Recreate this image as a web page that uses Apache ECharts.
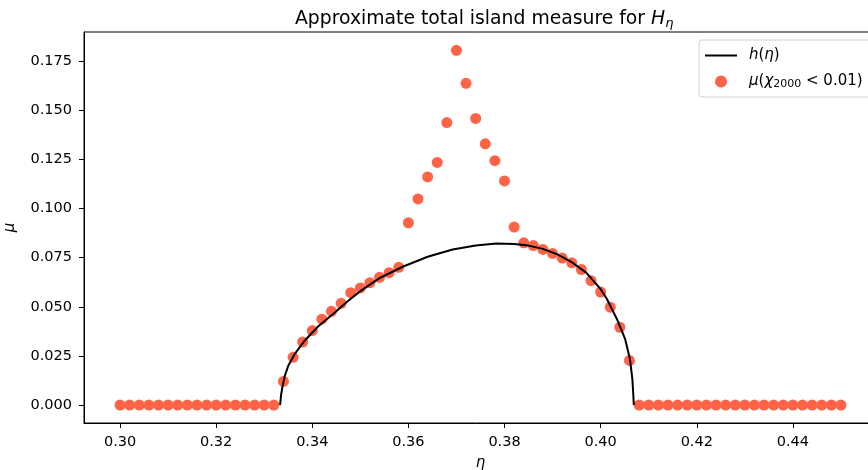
<!DOCTYPE html>
<html>
<head>
<meta charset="utf-8">
<script src="https://cdn.jsdelivr.net/npm/echarts@6/dist/echarts.min.js"></script>
<style>
  html, body { margin: 0; padding: 0; background: #fff; }
  #chart { width: 868px; height: 470px; }
</style>
</head>
<body>
<div id="chart"></div>
<script>
// sampled eta values of the scatter
const etaPts = [
  0.300, 0.302, 0.304, 0.306, 0.308, 0.310, 0.312, 0.314, 0.316, 0.318,
  0.320, 0.322, 0.324, 0.326, 0.328, 0.330, 0.332, 0.334, 0.336, 0.338,
  0.340, 0.342, 0.344, 0.346, 0.348, 0.350, 0.352, 0.354, 0.356, 0.358,
  0.360, 0.362, 0.364, 0.366, 0.368, 0.370, 0.372, 0.374, 0.376, 0.378,
  0.380, 0.382, 0.384, 0.386, 0.388, 0.390, 0.392, 0.394, 0.396, 0.398,
  0.400, 0.402, 0.404, 0.406, 0.408, 0.410, 0.412, 0.414, 0.416, 0.418,
  0.420, 0.422, 0.424, 0.426, 0.428, 0.430, 0.432, 0.434, 0.436, 0.438,
  0.440, 0.442, 0.444, 0.446, 0.448, 0.450
];
// mu(chi_2000 < 0.01)
const muVals = [
  0, 0, 0, 0, 0, 0, 0, 0, 0, 0,
  0, 0, 0, 0, 0, 0, 0, 0.0120, 0.0243, 0.0321,
  0.0379, 0.0437, 0.0477, 0.0518, 0.0572, 0.0596, 0.0623, 0.0650, 0.0674, 0.0701,
  0.0928, 0.1049, 0.1161, 0.1235, 0.1438, 0.1806, 0.1638, 0.1459, 0.1330, 0.1244,
  0.1141, 0.0906, 0.0826, 0.0812, 0.0792, 0.0772, 0.0748, 0.0724, 0.0690, 0.0633,
  0.0575, 0.0498, 0.0396, 0.0227, 0, 0, 0, 0, 0, 0,
  0, 0, 0, 0, 0, 0, 0, 0, 0, 0,
  0, 0, 0, 0, 0, 0
];
// h(eta) curve
const hEta = [0.3333, 0.3335, 0.3338, 0.3343, 0.3350, 0.3364, 0.3385, 0.3412, 0.3447, 0.3471,
  0.3500, 0.3540, 0.3588, 0.3640, 0.3692, 0.3740, 0.3783, 0.3820, 0.3845, 0.3880,
  0.3910, 0.3940, 0.3970, 0.4000, 0.4013, 0.4034, 0.4051, 0.4061, 0.4066, 0.4068, 0.4069];
const hVal = [0, 0.0050, 0.0095, 0.0150, 0.0200, 0.0262, 0.0330, 0.0400, 0.0471, 0.0523,
  0.0580, 0.0646, 0.0704, 0.0755, 0.0792, 0.0812, 0.0822, 0.0820, 0.0814, 0.0795,
  0.0767, 0.0727, 0.0674, 0.0590, 0.0540, 0.0437, 0.0335, 0.0234, 0.0132, 0.0050, 0];
const xTicks = [0.30, 0.32, 0.34, 0.36, 0.38, 0.40, 0.42, 0.44];
const yTicks = [0, 0.025, 0.05, 0.075, 0.1, 0.125, 0.15, 0.175];

const font = 'DejaVu Sans';
const chart = echarts.init(document.getElementById('chart'));

chart.setOption({
  animation: false,
  textStyle: { fontFamily: font },
  title: {
    text: '{n|Approximate total island measure for }{i|H}{s|η}',
    left: 290, top: 3,
    textStyle: {
      fontWeight: 'normal',
      rich: {
        n: { fontFamily: font, fontSize: 18.8, fontWeight: 'normal', color: '#000' },
        i: { fontFamily: font, fontSize: 18.8, fontWeight: 'normal', fontStyle: 'italic', color: '#000' },
        s: { fontFamily: font, fontSize: 13, fontWeight: 'normal', fontStyle: 'italic', color: '#000', padding: [9, 0, 0, 0] }
      }
    }
  },
  legend: {
    left: 699, top: 40,
    orient: 'vertical',
    data: [{ name: 'h', itemStyle: { opacity: 0 } }, 'mu'],
    itemWidth: 32, itemHeight: 12, itemGap: 11,
    padding: [8, 10, 7, 5],
    backgroundColor: '#fff',
    borderColor: '#d0d0d0', borderWidth: 1, borderRadius: 3,
    formatter: function (name) {
      return name === 'h' ? '{f|h}{n|(}{i|η}{n|)}' : '{f|μ}{n|(}{i|χ}{s|2000}{n| < 0.01)}';
    },
    textStyle: {
      rich: {
        f: { fontFamily: font, fontSize: 15, fontStyle: 'italic', color: '#000', padding: [0, 0, 0, 7] },
        n: { fontFamily: font, fontSize: 15, color: '#000' },
        i: { fontFamily: font, fontSize: 15, fontStyle: 'italic', color: '#000' },
        s: { fontFamily: font, fontSize: 11, color: '#000', padding: [6, 0, 0, 0] }
      }
    }
  },
  grid: {
    left: 84, top: 32, right: -9, bottom: 47,
    outerBoundsMode: 'none', containLabel: false,
    show: true, borderColor: '#000', borderWidth: 1
  },
  xAxis: {
    type: 'value',
    min: 0.2925, max: 0.4575,
    name: 'η',
    nameLocation: 'middle', nameGap: 33,
    nameTextStyle: { fontFamily: font, fontSize: 15, fontStyle: 'italic', color: '#000' },
    splitLine: { show: false },
    axisLine: { show: true, onZero: false, lineStyle: { color: '#000' } },
    axisTick: { show: true, length: 5, customValues: xTicks, lineStyle: { color: '#000' } },
    axisLabel: {
      customValues: xTicks, margin: 12,
      fontFamily: font, fontSize: 14.5, color: '#000',
      formatter: v => v.toFixed(2)
    }
  },
  yAxis: {
    type: 'value',
    min: -0.00914, max: 0.1899,
    name: 'μ',
    nameLocation: 'middle', nameGap: 66,
    nameTextStyle: { fontFamily: font, fontSize: 15, fontStyle: 'italic', color: '#000' },
    splitLine: { show: false },
    axisLine: { show: true, onZero: false, lineStyle: { color: '#000' } },
    axisTick: { show: true, length: 5, customValues: yTicks, lineStyle: { color: '#000' } },
    axisLabel: {
      customValues: yTicks, margin: 12,
      fontFamily: font, fontSize: 14.5, color: '#000',
      formatter: v => v.toFixed(3)
    }
  },
  series: [
    {
      name: 'mu',
      type: 'scatter',
      symbolSize: 11,
      itemStyle: { color: '#ff6347', opacity: 1 },
      data: etaPts.map((e, i) => [e, muVals[i]]),
      z: 2
    },
    {
      name: 'h',
      type: 'line',
      symbol: 'none',
      lineStyle: { color: '#000', width: 2 },
      itemStyle: { color: '#000' },
      data: hEta.map((e, i) => [e, hVal[i]]),
      z: 3
    }
  ]
});
</script>
</body>
</html>
